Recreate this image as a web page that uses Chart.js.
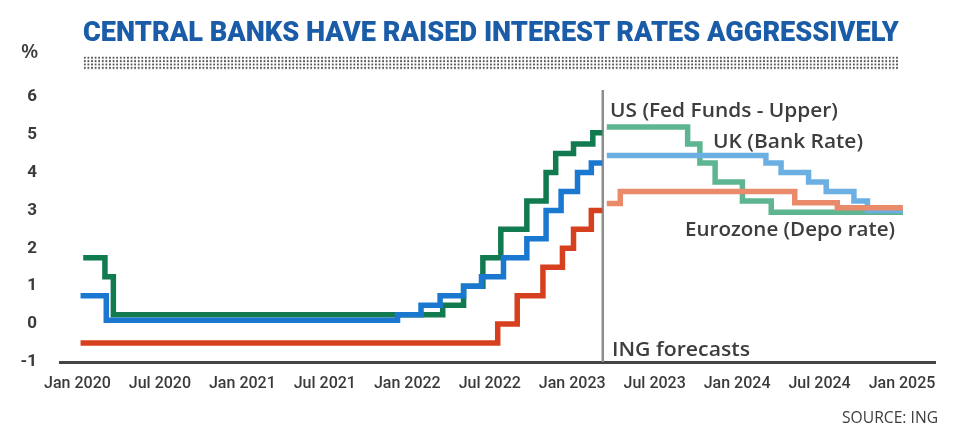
<!DOCTYPE html>
<html>
<head>
<meta charset="utf-8">
<script src="https://cdn.jsdelivr.net/npm/chart.js@4.4.1/dist/chart.umd.min.js"></script>
<style>
  body { margin: 0; background: #fff; }
  #page { position: relative; width: 958px; height: 434px; overflow: hidden; font-family: "Open Sans", sans-serif; color: #3d3d3d; }
  #chartBox { position: absolute; left: 0; top: 0; width: 958px; height: 434px; }
  .txt { position: absolute; white-space: nowrap; transform-origin: left center; }
  #title { left: 83px; top: 18px; font-family: Roboto, sans-serif; font-weight: 900; font-size: 28px; line-height: 28px; color: #1b5ca8; }
  #rule { position: absolute; left: 83px; top: 56px; width: 816px; height: 14px;
          background-image: radial-gradient(circle, #555 1px, rgba(255,255,255,0) 1.4px);
          background-size: 3.6px 3.4px; }
  #pct { left: 21px; top: 41px; font-size: 20px; line-height: 20px; font-weight: 600; }
  .lbl { font-size: 20px; line-height: 20px; font-weight: 600; }
  #source { left: 842px; top: 408px; font-size: 17px; line-height: 17px; }
</style>
</head>
<body>
<div id="page">
  <div id="chartBox"><canvas id="ratesChart"></canvas></div>
  <div id="title" class="txt" data-w="816">CENTRAL BANKS HAVE RAISED INTEREST RATES AGGRESSIVELY</div>
  <div id="rule"></div>
  <div id="pct" class="txt">%</div>
  <div class="txt lbl" style="left:610px; top:100px;" data-w="228">US (Fed Funds - Upper)</div>
  <div class="txt lbl" style="left:713px; top:131px;" data-w="150">UK (Bank Rate)</div>
  <div class="txt lbl" style="left:685px; top:219px;" data-w="210">Eurozone (Depo rate)</div>
  <div class="txt lbl" style="left:612px; top:339px;" data-w="138">ING forecasts</div>
  <div id="source" class="txt" data-w="96">SOURCE: ING</div>
</div>
<script>
// x axis labels, one every 6 months from Jan 2020
var tickLabels = ['Jan 2020', 'Jul 2020', 'Jan 2021', 'Jul 2021', 'Jan 2022', 'Jul 2022',
                  'Jan 2023', 'Jul 2023', 'Jan 2024', 'Jul 2024', 'Jan 2025'];

var usDates = ['2020-01-14', '2020-03-01', '2020-03-20', '2022-03-19', '2022-05-04', '2022-06-16', '2022-07-26',
               '2022-09-22', '2022-11-04', '2022-11-25', '2023-01-04', '2023-02-15', '2023-03-07'];
var usRates = [1.75, 1.25, 0.25, 0.5, 1.0, 1.75, 2.5, 3.25, 4.0, 4.5, 4.75, 5.05, 5.05];

var ukDates = ['2020-01-08', '2020-03-04', '2021-12-10', '2022-02-01', '2022-03-13', '2022-05-04', '2022-06-13',
               '2022-08-01', '2022-09-22', '2022-11-04', '2022-12-07', '2023-01-13', '2023-02-12', '2023-03-07'];
var ukRates = [0.75, 0.1, 0.25, 0.5, 0.75, 1.0, 1.25, 1.75, 2.25, 3.0, 3.5, 4.0, 4.25, 4.25];

var ezDates = ['2020-01-08', '2022-07-19', '2022-09-01', '2022-10-28', '2022-12-10', '2023-01-04', '2023-02-12', '2023-03-07'];
var ezRates = [-0.5, 0, 0.75, 1.5, 2.0, 2.5, 3.0, 3.0];

// ING forecasts
var usFcDates = ['2023-03-17', '2023-09-13', '2023-10-10', '2023-11-13', '2024-01-13', '2024-03-16', '2025-01-03'];
var usFcRates = [5.2, 4.75, 4.25, 3.75, 3.25, 2.95, 2.95];

var ukFcDates = ['2023-03-17', '2024-03-04', '2024-04-07', '2024-06-07', '2024-07-16', '2024-09-16', '2024-10-16', '2025-01-03'];
var ukFcRates = [4.45, 4.25, 4.0, 3.75, 3.5, 3.25, 3.0, 3.0];

var ezFcDates = ['2023-03-17', '2023-04-16', '2024-05-07', '2024-08-10', '2025-01-03'];
var ezFcRates = [3.18, 3.5, 3.2, 3.07, 3.07];

var forecastStart = '2023-03-08';

// months since Jan 2020, used as the x value
function toMonths(s) 
{
    var p = s.split('-').map(Number);
    var dim = new Date(p[0], p[1], 0).getDate();
    return (p[0] - 2020) * 12 + (p[1] - 1) + (p[2] - 1) / dim;
}

function points(dates, rates) 
{
    return dates.map(function(d, i) { return { x: toMonths(d), y: rates[i] }; });
}

function stepLine(dates, rates, color) 
{
    return {
        data: points(dates, rates),
        borderColor: color,
        borderWidth: 5.5,
        stepped: true,
        pointRadius: 0,
        fill: false,
        borderJoinStyle: 'miter',
        borderCapStyle: 'butt'
    };
}

var chart = new Chart(document.getElementById('ratesChart').getContext('2d'), {
    type: 'line',
    data: {
        datasets: [
            stepLine(ezFcDates, ezFcRates, '#e98a6b'),
            stepLine(ukFcDates, ukFcRates, '#6cb0e3'),
            stepLine(usFcDates, usFcRates, '#5db592'),
            stepLine(ezDates, ezRates, '#d6401f'),
            stepLine(ukDates, ukRates, '#1b78d0'),
            stepLine(usDates, usRates, '#117a4f'),
            {
                // vertical divider between history and forecasts
                data: [{ x: toMonths(forecastStart), y: -1 }, { x: toMonths(forecastStart), y: 6.18 }],
                borderColor: '#8e8e8e',
                borderWidth: 2.5,
                pointRadius: 0,
                clip: false
            }
        ]
    },
    options: {
        responsive: true,
        maintainAspectRatio: false,
        animation: false,
        layout: { padding: { top: 96.7, right: 23, bottom: 32, left: 0 } },
        plugins: {
            legend: { display: false },
            tooltip: { enabled: false }
        },
        scales: {
            x: {
                type: 'linear',
                min: -1.27,
                max: 62.4,
                afterFit: function(scale) { scale.height = 40; },
                afterBuildTicks: function(scale) {
                    scale.ticks = tickLabels.map(function(l, i) { return { value: i * 6 }; });
                },
                grid: { display: false, drawTicks: false },
                border: { display: true, color: '#454545', width: 3 },
                ticks: {
                    autoSkip: false,
                    maxRotation: 0,
                    padding: 12,
                    color: '#3a3a3a',
                    font: { family: 'Roboto', size: 16, weight: 500 },
                    callback: function(v) { return tickLabels[Math.round(v / 6)]; }
                }
            },
            y: {
                min: -1,
                max: 6,
                afterFit: function(scale) { scale.width = 60; },
                grid: { display: false, drawTicks: false },
                border: { display: false },
                ticks: {
                    stepSize: 1,
                    padding: 23,
                    color: '#3a3a3a',
                    font: { family: 'Roboto', size: 17, weight: 'bold' }
                }
            }
        }
    }
});

function fitTexts() 
{
    document.querySelectorAll('[data-w]').forEach(function(el) {
        el.style.transform = 'none';
        var w = el.getBoundingClientRect().width;
        el.style.transform = 'scaleX(' + (parseFloat(el.dataset.w) / w).toFixed(3) + ')';
    });
}
fitTexts();
if (document.fonts) document.fonts.ready.then(fitTexts);
</script>
</body>
</html>
